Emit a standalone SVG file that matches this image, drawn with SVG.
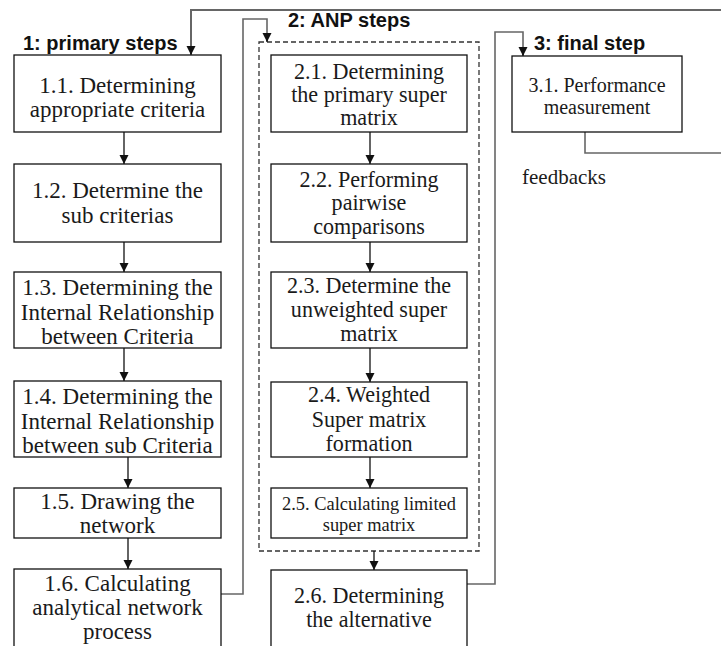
<svg xmlns="http://www.w3.org/2000/svg" width="721" height="646" viewBox="0 0 721 646">
<style>
.box{fill:#fff;stroke:#111;stroke-width:1.3}
.dash{fill:none;stroke:#333;stroke-width:1.3;stroke-dasharray:5 3}
.conn{fill:none;stroke:#666;stroke-width:1.6}
.arr{fill:none;stroke:#111;stroke-width:1.3}
.t{font-family:"Liberation Serif","Times New Roman",serif;font-size:23px;fill:#1a1a1a;text-anchor:middle}
.ts{font-family:"Liberation Serif","Times New Roman",serif;font-size:19px;fill:#1a1a1a;text-anchor:middle}
.t3{font-family:"Liberation Serif","Times New Roman",serif;font-size:20px;fill:#1a1a1a;text-anchor:middle}
.tf{font-family:"Liberation Serif","Times New Roman",serif;font-size:21px;fill:#1a1a1a}
.h{font-family:"Liberation Sans",Arial,sans-serif;font-size:20px;font-weight:bold;fill:#111}
</style>
<defs>
<marker id="ah" viewBox="0 0 10 10" refX="10" refY="5" markerWidth="9" markerHeight="10" markerUnits="userSpaceOnUse" orient="auto">
<path d="M0,0 L10,5 L0,10 z" fill="#111"/>
</marker>
</defs>
<rect width="721" height="646" fill="#fff"/>

<g id="titles">
<text class="h" x="23" y="50">1: primary steps</text>
<text class="h" x="288" y="27">2: ANP steps</text>
<text class="h" x="534" y="50">3: final step</text>
</g>

<g id="anp-group">
<rect class="dash" x="259" y="42" width="220" height="509"/>
</g>

<g id="connectors">
<line class="arr" x1="124" y1="132" x2="124" y2="164" marker-end="url(#ah)"/>
<line class="arr" x1="124" y1="242" x2="124" y2="272" marker-end="url(#ah)"/>
<line class="arr" x1="124" y1="348" x2="124" y2="381" marker-end="url(#ah)"/>
<line class="arr" x1="128" y1="457" x2="128" y2="488" marker-end="url(#ah)"/>
<line class="arr" x1="128" y1="538" x2="128" y2="569" marker-end="url(#ah)"/>
<line class="arr" x1="370" y1="132" x2="370" y2="164" marker-end="url(#ah)"/>
<line class="arr" x1="370" y1="242" x2="370" y2="272" marker-end="url(#ah)"/>
<line class="arr" x1="370" y1="348" x2="370" y2="382" marker-end="url(#ah)"/>
<line class="arr" x1="370" y1="457" x2="370" y2="488" marker-end="url(#ah)"/>
<line class="arr" x1="374" y1="551" x2="374" y2="570" marker-end="url(#ah)"/>
<path class="conn" d="M221,594 H243 V19 H267 V41"/>
<path class="arr" d="M267,36 V42" marker-end="url(#ah)"/>
<path class="conn" d="M467,584 H495 V32 H523 V55"/>
<path class="arr" d="M523,50 V56" marker-end="url(#ah)"/>
<path class="conn" d="M585,132 V153 H726"/>
<path class="conn" d="M726,10 H191 V54" style="stroke-width:2"/>
<path class="arr" d="M191,49 V55" marker-end="url(#ah)"/>
</g>

<g id="n11"><rect class="box" x="14" y="55" width="207" height="77"/>
<text class="t" x="117.5" y="93">1.1. Determining</text><text class="t" x="117.5" y="117">appropriate criteria</text></g>

<g id="n12"><rect class="box" x="14" y="164" width="207" height="78"/>
<text class="t" x="117.5" y="198">1.2. Determine the</text><text class="t" x="117.5" y="223">sub criterias</text></g>

<g id="n13"><rect class="box" x="14" y="272" width="207" height="76"/>
<text class="t" x="117.5" y="295">1.3. Determining the</text><text class="t" x="117.5" y="320">Internal Relationship</text><text class="t" x="117.5" y="344">between Criteria</text></g>

<g id="n14"><rect class="box" x="14" y="381" width="207" height="76"/>
<text class="t" x="117.5" y="404">1.4. Determining the</text><text class="t" x="117.5" y="429">Internal Relationship</text><text class="t" x="117.5" y="453">between sub Criteria</text></g>

<g id="n15"><rect class="box" x="14" y="488" width="207" height="50"/>
<text class="t" x="117.5" y="509">1.5. Drawing the</text><text class="t" x="117.5" y="533">network</text></g>

<g id="n16"><rect class="box" x="14" y="569" width="207" height="85"/>
<text class="t" x="117.5" y="591">1.6. Calculating</text><text class="t" x="117.5" y="615">analytical network</text><text class="t" x="117.5" y="639">process</text></g>

<g id="n21"><rect class="box" x="271" y="55" width="196" height="77"/>
<g transform="translate(369,0) scale(0.96,1)"><text class="t" x="0" y="79">2.1. Determining</text><text class="t" x="0" y="102">the primary super</text><text class="t" x="0" y="125">matrix</text></g></g>

<g id="n22"><rect class="box" x="271" y="164" width="196" height="78"/>
<g transform="translate(369,0) scale(0.96,1)"><text class="t" x="0" y="187">2.2. Performing</text><text class="t" x="0" y="210">pairwise</text><text class="t" x="0" y="234">comparisons</text></g></g>

<g id="n23"><rect class="box" x="271" y="272" width="196" height="76"/>
<g transform="translate(369,0) scale(0.96,1)"><text class="t" x="0" y="293">2.3. Determine the</text><text class="t" x="0" y="317">unweighted super</text><text class="t" x="0" y="341">matrix</text></g></g>

<g id="n24"><rect class="box" x="271" y="382" width="196" height="75"/>
<g transform="translate(369,0) scale(0.96,1)"><text class="t" x="0" y="402">2.4. Weighted</text><text class="t" x="0" y="427">Super matrix</text><text class="t" x="0" y="451">formation</text></g></g>

<g id="n25"><rect class="box" x="271" y="488" width="196" height="50"/>
<g transform="translate(369,0) scale(0.97,1)"><text class="ts" x="0" y="510">2.5. Calculating limited</text><text class="ts" x="0" y="531">super matrix</text></g></g>

<g id="n26"><rect class="box" x="271" y="570" width="196" height="84"/>
<g transform="translate(369,0) scale(0.96,1)"><text class="t" x="0" y="603">2.6. Determining</text><text class="t" x="0" y="627">the alternative</text></g></g>

<g id="n31"><rect class="box" x="512" y="56" width="170" height="76"/>
<text class="t3" x="597" y="92">3.1. Performance</text><text class="t3" x="597" y="114">measurement</text></g>

<g id="feedback-label"><text class="tf" x="522" y="184">feedbacks</text></g>
</svg>
